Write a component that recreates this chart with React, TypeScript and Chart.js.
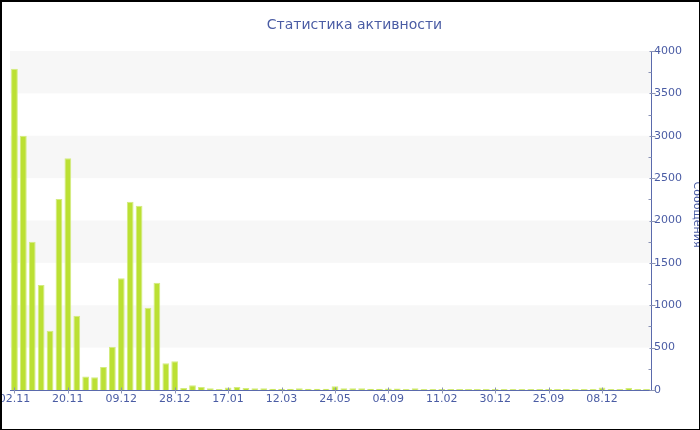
import { useEffect, useRef } from 'react';
import { Chart, registerables } from 'chart.js';

Chart.register(...registerables);

// Days with activity (dd.mm), one bar per day
const dates = [
  '02.11', '05.11', '08.11', '11.11', '14.11', '17.11',
  '20.11', '23.11', '26.11', '29.11', '02.12', '06.12',
  '09.12', '12.12', '15.12', '18.12', '21.12', '25.12',
  '28.12', '31.12', '03.01', '06.01', '09.01', '13.01',
  '17.01', '24.01', '01.02', '10.02', '19.02', '28.02',
  '12.03', '23.03', '04.04', '15.04', '27.04', '09.05',
  '24.05', '08.06', '26.06', '11.07', '29.07', '16.08',
  '04.09', '02.10', '30.10', '27.11', '25.12', '16.01',
  '11.02', '05.04', '28.05', '22.07', '14.09', '06.11',
  '30.12', '14.02', '31.03', '17.05', '30.06', '13.08',
  '25.09', '07.10', '19.10', '31.10', '12.11', '24.11',
  '08.12', '15.12', '22.12', '29.12', '05.01', '12.01',
];

// Messages per day
const messages = [
  3790, 3000, 1750, 1240, 700, 2255,
  2735, 875, 160, 150, 270, 510,
  1320, 2220, 2175, 970, 1265, 315,
  340, 25, 55, 35, 20, 12,
  30, 35, 24, 20, 20, 15,
  15, 15, 20, 15, 15, 15,
  45, 20, 20, 20, 15, 15,
  18, 18, 12, 20, 12, 12,
  12, 12, 12, 12, 12, 12,
  12, 12, 12, 12, 12, 12,
  12, 12, 12, 12, 12, 12,
  30, 12, 12, 25, 12, 12,
];

const labelEvery = 6;
const yMax = 4000;
const yStep = 500;
const yMinorStep = 250;

const titleText = 'Статистика активности';
const yTitleText = 'Сообщения';

const textColor = '#4a5ca4';
const axisColor = '#5a6aac';
const tickMarkColor = '#8a93b5';
const bandColor = '#f7f7f7';
const barColor = '#bbe033';
const barEdge = '#d3ec80';
const fontFamily = '"DejaVu Sans", Verdana, sans-serif';

const decorations = {
  id: 'decorations',
  beforeDraw(chart: any) {
    const { ctx, chartArea, scales } = chart;
    const y = scales.y;
    ctx.save();
    ctx.fillStyle = bandColor;
    for (let v = 0; v < yMax; v += yStep) {
      if ((v / yStep) % 2 === 1) {
        const top = y.getPixelForValue(v + yStep);
        const bottom = y.getPixelForValue(v);
        ctx.fillRect(chartArea.left, top, chartArea.right - chartArea.left, bottom - top);
      }
    }
    ctx.restore();
  },
  afterDraw(chart: any) {
    const { ctx, scales, height } = chart;
    const x = scales.x;
    const y = scales.y;
    ctx.save();
    ctx.strokeStyle = tickMarkColor;
    ctx.lineWidth = 1;
    ctx.beginPath();
    const ax = Math.round(y.left) + 0.5;
    for (let v = 0; v <= yMax; v += yMinorStep) {
      const py = Math.round(y.getPixelForValue(v)) + 0.5;
      if (v % yStep === 0) {
        ctx.moveTo(ax - 2, py);
        ctx.lineTo(ax + 4, py);
      } else {
        ctx.moveTo(ax - 3, py);
        ctx.lineTo(ax, py);
      }
    }
    const ay = Math.round(x.top) + 0.5;
    for (let i = 0; i < dates.length; i += labelEvery) {
      const px = Math.round(x.getPixelForValue(i)) + 0.5;
      ctx.moveTo(px, ay - 3);
      ctx.lineTo(px, ay + 3);
    }
    ctx.stroke();

    // vertical axis title along the right edge
    ctx.fillStyle = textColor;
    ctx.font = `11px ${fontFamily}`;
    ctx.textAlign = 'center';
    ctx.textBaseline = 'alphabetic';
    ctx.translate(chart.width - 5, height / 2 - 1);
    ctx.rotate(Math.PI / 2);
    ctx.fillText(yTitleText, 0, 0);
    ctx.restore();
  },
};

export default function App() {
  const canvasRef = useRef<HTMLCanvasElement | null>(null);

  useEffect(() => {
    if (!canvasRef.current) return;
    const chart = new Chart(canvasRef.current, {
      type: 'bar',
      data: {
        labels: dates,
        datasets: [
          {
            label: yTitleText,
            data: messages,
            backgroundColor: barColor,
            borderColor: barEdge,
            borderWidth: 1,
            categoryPercentage: 1,
            barPercentage: 0.76,
          },
        ],
      },
      options: {
        responsive: false,
        animation: false,
        layout: { padding: { left: 8, right: 0, top: 0, bottom: 19.8 } },
        plugins: {
          legend: { display: false },
          tooltip: { enabled: false },
          title: {
            display: true,
            text: titleText,
            color: textColor,
            font: { family: fontFamily, size: 14, weight: 'normal' },
            padding: { top: 14.6, bottom: 17.6 },
          },
        },
        scales: {
          x: {
            grid: { display: false, drawTicks: false },
            border: { display: true, color: axisColor, width: 1 },
            ticks: {
              autoSkip: false,
              maxRotation: 0,
              minRotation: 0,
              padding: 3,
              color: textColor,
              font: { family: fontFamily, size: 11 },
              callback: (_v: any, i: number) => (i % labelEvery === 0 ? dates[i] : ''),
            },
            afterFit: (scale: any) => {
              scale.paddingLeft = 0;
              scale.paddingRight = 0;
            },
          },
          y: {
            position: 'right',
            min: 0,
            max: yMax,
            grid: { display: false, drawTicks: false },
            border: { display: true, color: axisColor, width: 1 },
            ticks: {
              stepSize: yStep,
              padding: 3,
              color: textColor,
              font: { family: fontFamily, size: 11 },
              callback: (v: any) => String(v),
            },
            afterFit: (scale: any) => {
              scale.width = 48;
            },
          },
        },
      },
      plugins: [decorations],
    });
    return () => chart.destroy();
  }, []);

  return (
    <div
      style={{
        position: 'fixed',
        left: 0,
        top: 0,
        width: 700,
        height: 430,
        boxSizing: 'border-box',
        borderStyle: 'solid',
        borderColor: '#000',
        borderWidth: '2px 1px 1px 2px',
        background: '#fff',
        overflow: 'hidden',
      }}
    >
      <canvas ref={canvasRef} width={697} height={427} style={{ display: 'block' }} />
    </div>
  );
}
